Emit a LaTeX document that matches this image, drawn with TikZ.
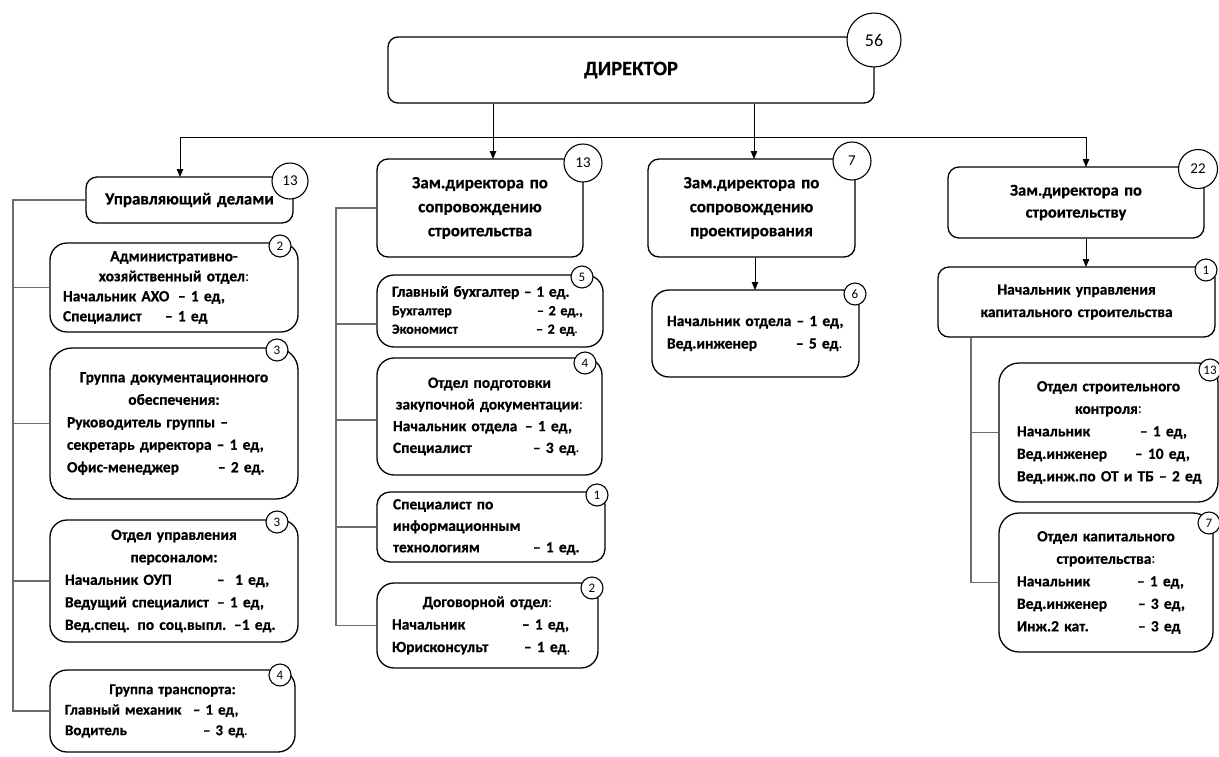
\documentclass[tikz,border=0pt]{standalone}
\usepackage{fontspec}
\setmainfont{Carlito}[BoldFeatures={FakeBold=0.6}]
\usetikzlibrary{arrows.meta}
\definecolor{conncol}{RGB}{110,110,110}
\newcommand\rg[1]{{\mdseries #1}}
\newcommand\dl[4]{\makebox[\linewidth][l]{\hspace*{#1pt}\makebox[#2pt][l]{#3}#4}}
\newcommand\fl[2]{\makebox[\linewidth][l]{\hspace*{#1pt}#2}}
\newcommand\boxnode[7]{%
 \pgfmathsetmacro\bxw{#4-#2}\pgfmathsetmacro\bxh{#5-#3}%
 \pgfmathsetmacro\bxx{(#2+#4)/2}\pgfmathsetmacro\bxy{(#3+#5)/2}%
 \node[#6, minimum width=\bxw pt, minimum height=\bxh pt, text width=\bxw pt] (#1) at (\bxx,\bxy) {#7};}
\tikzset{
 box/.style={draw, line width=1.3pt, inner sep=0pt, align=center, fill=white},
 headbox/.style={box, rounded corners=11pt, font=\fontsize{17}{24}\selectfont\bfseries},
 subbox/.style={box, rounded corners=17pt, font=\fontsize{15.5}{22.5}\selectfont\bfseries},
 num/.style={circle, draw, line width=1.1pt, fill=white, inner sep=0pt, font=\fontsize{15}{15}\selectfont},
 snum/.style={num, minimum size=22pt, font=\fontsize{13}{13}\selectfont},
 conn/.style={draw=conncol, line width=1.3pt},
 arr/.style={draw, line width=1pt, -{Triangle[length=8pt,width=6.5pt]}}
}
\begin{document}
\begin{tikzpicture}[x=1pt,y=-1pt]
\useasboundingbox (0,0) rectangle (1219,756);
% boxes
\boxnode{dir}{388}{37}{874}{103}{box, rounded corners=10pt, font=\fontsize{20.5}{22}\selectfont\bfseries}{ДИРЕКТОР}
\boxnode{ud}{86}{177}{293}{223}{headbox}{Управляющий делами}
\boxnode{z2}{377}{159}{583}{257}{headbox}{Зам.директора по\\сопровождению\\строительства}
\boxnode{z3}{648}{159}{855}{257}{headbox}{Зам.директора по\\сопровождению\\проектирования}
\boxnode{z4}{948}{167}{1204}{238}{headbox, font=\fontsize{16.5}{22}\selectfont\bfseries}{Зам.директора по\\строительству}
\boxnode{axo}{50}{243}{298}{332}{subbox, font=\fontsize{15.5}{20}\selectfont\bfseries}{Административно-\\хозяйственный отдел\rg{:}\\ \dl{13}{115}{Начальник АХО}{– 1 ед,}\\ \dl{13}{102}{Специалист}{– 1 ед}}
\boxnode{dok}{50}{348}{298}{499}{subbox, rounded corners=22pt}{Группа документационного\\обеспечения:\\ \fl{17}{Руководитель группы –}\\ \fl{17}{секретарь директора – 1 ед,}\\ \dl{17}{151}{Офис-менеджер}{– 2 ед.}}
\boxnode{oup}{50}{520}{298}{642}{subbox}{Отдел управления\\персоналом:\\ \dl{15}{152}{Начальник ОУП}{–\ \ 1 ед,}\\ \dl{15}{152}{Ведущий специалист}{– 1 ед,}\\ \fl{15}{Вед.спец. по соц.выпл. –1 ед.}}
\boxnode{tr}{50}{670}{295}{752}{subbox, font=\fontsize{15}{20.5}\selectfont\bfseries}{Группа транспорта:\\ \dl{15}{128}{Главный механик}{– 1 ед,}\\ \dl{15}{138}{Водитель}{– 3 ед\rg{.}}}
\boxnode{bux}{377}{275}{603}{347}{subbox, font=\fontsize{14}{18.5}\selectfont\bfseries}{\fl{15}{\fontsize{15.5}{18.5}\selectfont Главный бухгалтер – 1 ед.}\\ \dl{15}{145}{Бухгалтер}{– 2 ед.,}\\ \dl{15}{144}{Экономист}{– 2 ед\rg{.}}}
\boxnode{opzd}{377}{358}{602}{475}{subbox, font=\fontsize{15.5}{21.7}\selectfont\bfseries}{Отдел подготовки\\закупочной документации\rg{:}\\ \dl{16}{132}{Начальник отдела}{– 1 ед,}\\ \dl{16}{140}{Специалист}{– 3 ед\rg{.}}}
\boxnode{it}{377}{492}{605}{562}{subbox, rounded corners=13pt, font=\fontsize{15.5}{21.5}\selectfont\bfseries}{\fl{16}{Специалист по}\\ \fl{16}{информационным}\\ \dl{16}{140}{технологиям}{– 1 ед.}}
\boxnode{dog}{377}{583}{598}{668}{subbox}{Договорной отдел\rg{:}\\ \dl{15}{130}{Начальник}{– 1 ед,}\\ \dl{15}{132}{Юрисконсульт}{– 1 ед\rg{.}}}
\boxnode{z3s}{652}{290}{859}{377}{subbox}{\fl{15}{Начальник отдела – 1 ед,}\\ \dl{15}{129}{Вед.инженер}{– 5 ед\rg{.}}}
\boxnode{nuks}{938}{267}{1215}{337}{subbox, rounded corners=11pt}{Начальник управления\\капитального строительства}
\boxnode{osk}{999}{363}{1218}{502}{subbox, rounded corners=20pt}{Отдел строительного\\контроля\rg{:}\\ \dl{18}{123}{Начальник}{– 1 ед,}\\ \dl{18}{118}{Вед.инженер}{– 10 ед,}\\ \fl{18}{Вед.инж.по ОТ и ТБ – 2 ед}}
\boxnode{oks}{999}{513}{1213}{652}{subbox, rounded corners=20pt}{Отдел капитального\\строительства\rg{:}\\ \dl{18}{120}{Начальник}{– 1 ед,}\\ \dl{18}{121}{Вед.инженер}{– 3 ед,}\\ \dl{18}{121}{Инж.2 кат.}{– 3 ед}}
% connector coordinates
\coordinate (hL) at (180,137);
\coordinate (hR) at (1086,137);
\coordinate (t1) at (180,177);
\coordinate (t2) at (493,159);
\coordinate (t3) at (754,159);
\coordinate (t4) at (1086,167);
\coordinate (t5) at (755,290);
\coordinate (t6) at (1086,267);
\coordinate (s1) at (13,0);
\coordinate (s2) at (336,0);
\coordinate (s4) at (971,0);
\coordinate (j1) at (336,324);
\coordinate (j2) at (336,420);
% top tree
\draw[line width=1pt] (hL) -- (hR);
\draw[arr] (dir.south -| t2) -- (t2);
\draw[arr] (dir.south -| t3) -- (t3);
\draw[arr] (hL) -- (t1);
\draw[arr] (hR) -- (t4);
\draw[arr] (z3.south -| t5) -- (t5);
\draw[arr] (z4.south -| t6) -- (t6);
% brackets column 1
\draw[conn] (ud.west) -| (s1 |- tr.west) -- (tr.west);
\draw[conn] (s1 |- axo.west) -- (axo.west);
\draw[conn] (s1 |- dok.west) -- (dok.west);
\draw[conn] (s1 |- oup.west) -- (oup.west);
% brackets column 2
\draw[conn] (z2.west) -| (s2 |- dog.west) -- (dog.west);
\draw[conn] (j1) -- (j1 -| bux.west);
\draw[conn] (j2) -- (j2 -| opzd.west);
\draw[conn] (s2 |- it.west) -- (it.west);
% brackets column 4
\draw[conn] (s4 |- nuks.south) -- (s4 |- oks.west) -- (oks.west);
\draw[conn] (s4 |- osk.west) -- (osk.west);
% number circles
\node[num, minimum size=54pt, font=\fontsize{18}{18}\selectfont] (n-dir) at (874,40) {56};
\node[num, minimum size=36pt] (n-ud) at (290,181) {13};
\node[num, minimum size=38pt] (n-z2) at (583,163) {13};
\node[num, minimum size=38pt] (n-z3) at (852,161) {7};
\node[num, minimum size=39pt] (n-z4) at (1198,169) {22};
\node[snum] (n-axo) at (280,246) {2};
\node[snum] (n-dok) at (277,350) {3};
\node[snum] (n-oup) at (277,522) {3};
\node[snum] (n-tr) at (280,675) {4};
\node[snum] (n-bux) at (582,277) {5};
\node[snum] (n-opzd) at (585,363) {4};
\node[snum] (n-it) at (597,495) {1};
\node[snum] (n-dog) at (592,588) {2};
\node[snum] (n-z3s) at (855,294) {6};
\node[snum] (n-nuks) at (1206,270) {1};
\node[snum] (n-osk) at (1210,370) {13};
\node[snum] (n-oks) at (1209,523) {7};
\end{tikzpicture}
\end{document}
